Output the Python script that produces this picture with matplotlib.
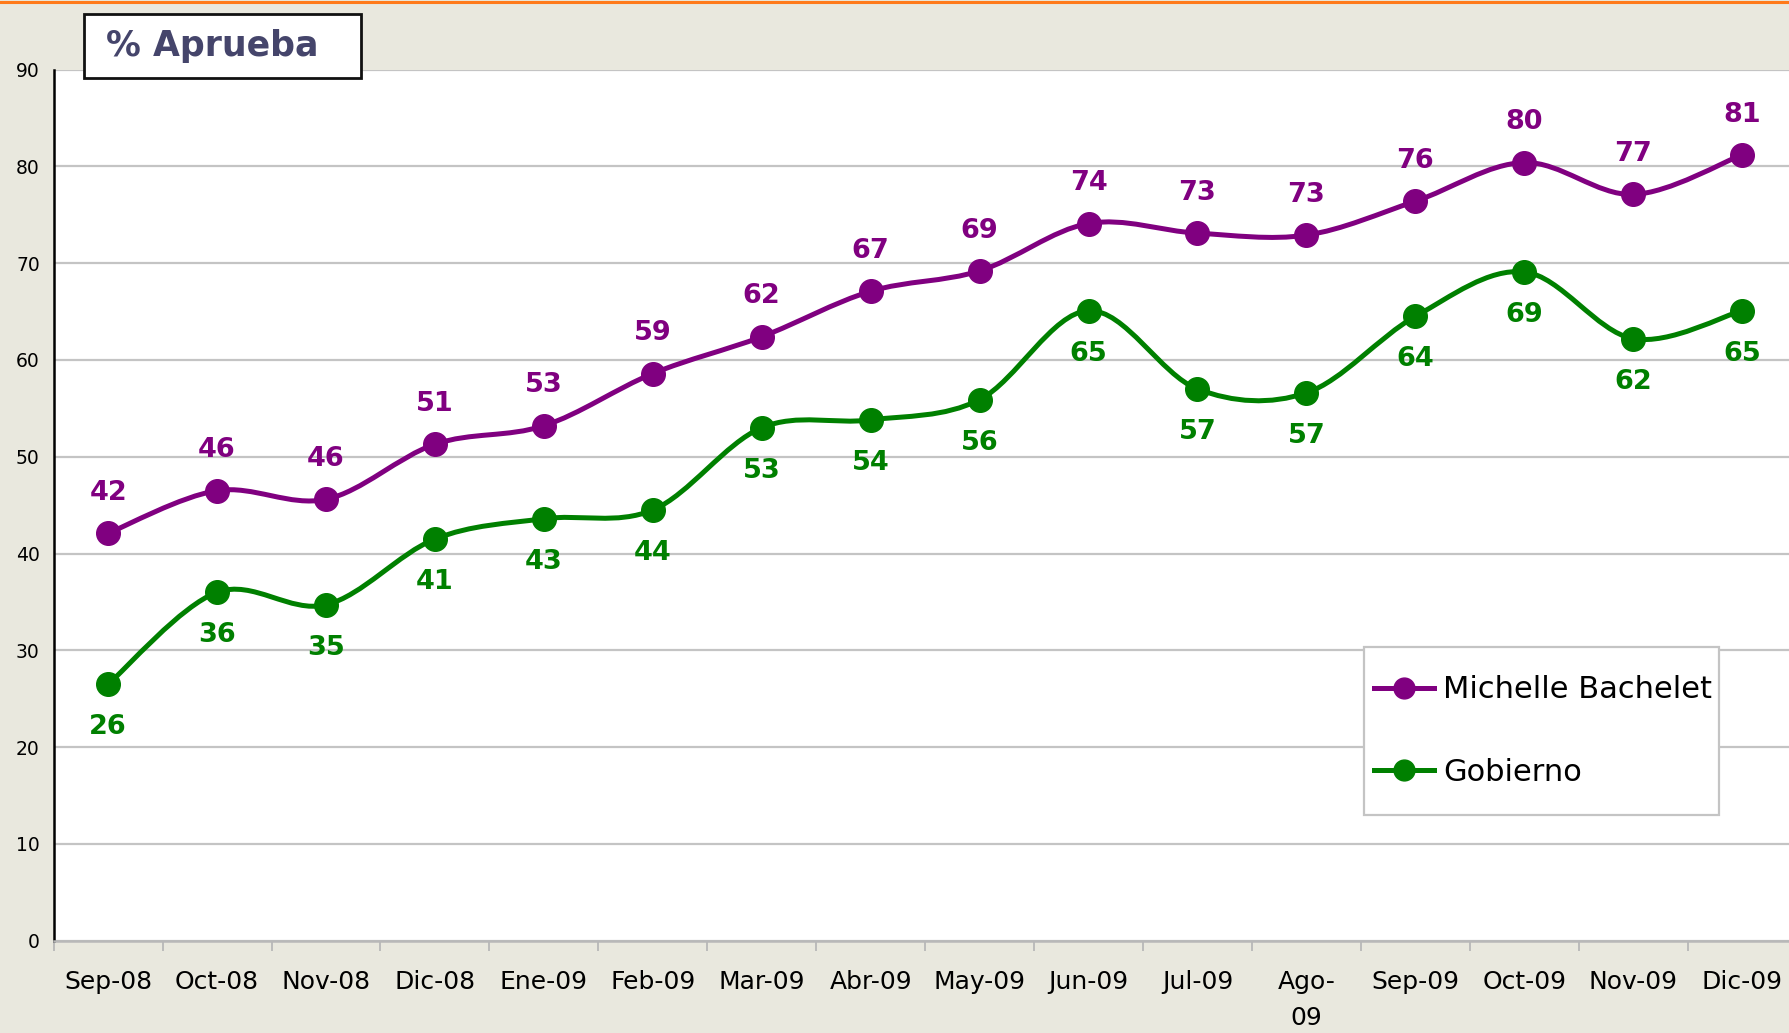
import numpy as np
import matplotlib.pyplot as plt
from matplotlib.path import Path
from matplotlib.patches import PathPatch, Rectangle
from matplotlib.lines import Line2D

# ---------------- data ----------------
meses = ['Sep-08', 'Oct-08', 'Nov-08', 'Dic-08', 'Ene-09', 'Feb-09', 'Mar-09', 'Abr-09',
         'May-09', 'Jun-09', 'Jul-09', 'Ago-\n09', 'Sep-09', 'Oct-09', 'Nov-09', 'Dic-09']

bachelet = [42.1, 46.5, 45.6, 51.3, 53.2, 58.6, 62.4, 67.1,
            69.2, 74.1, 73.1, 72.9, 76.4, 80.4, 77.1, 81.2]
bachelet_lbl = [42, 46, 46, 51, 53, 59, 62, 67, 69, 74, 73, 73, 76, 80, 77, 81]

gobierno = [26.5, 36.0, 34.7, 41.5, 43.6, 44.5, 53.0, 53.8,
            55.9, 65.1, 57.0, 56.6, 64.5, 69.1, 62.2, 65.1]
gobierno_lbl = [26, 36, 35, 41, 43, 44, 53, 54, 56, 65, 57, 57, 64, 69, 62, 65]

yticks = [0, 10, 20, 30, 40, 50, 60, 70, 80, 90]

PURPLE = '#800080'
GREEN = '#008000'
BG = '#E9E8DE'

plt.rcParams['font.family'] = ['DejaVu Sans']


def smooth_path(xs, ys):
    # catmull-rom style bezier through the points (like excel smoothed lines)
    pts = np.column_stack([xs, ys]).astype(float)
    verts = [pts[0]]
    codes = [Path.MOVETO]
    n = len(pts)
    for i in range(n - 1):
        p0 = pts[i - 1] if i > 0 else pts[i]
        p1 = pts[i]
        p2 = pts[i + 1]
        p3 = pts[i + 2] if i + 2 < n else pts[i + 1]
        c1 = p1 + (p2 - p0) / 6.0
        c2 = p2 - (p3 - p1) / 6.0
        verts += [c1, c2, p2]
        codes += [Path.CURVE4] * 3
    return Path(verts, codes)


fig = plt.figure(figsize=(17.9, 10.33), dpi=100, facecolor=BG)
ax = fig.add_axes([0.030, 0.0894, 0.970, 0.8432])
ax.set_facecolor('white')

x = np.arange(len(meses))

for vals, lbls, col, off in [(bachelet, bachelet_lbl, PURPLE, 29),
                             (gobierno, gobierno_lbl, GREEN, -31)]:
    ax.add_patch(PathPatch(smooth_path(x, vals), facecolor='none', edgecolor=col,
                           lw=3.6, zorder=3, capstyle='round', joinstyle='round'))
    ax.plot(x, vals, 'o', color=col, ms=17, zorder=4)
    for xi, v, l in zip(x, vals, lbls):
        ax.annotate(str(l), (xi, v), xytext=(0, off), textcoords='offset points',
                    ha='center', va='center', fontsize=19.5, fontweight='bold', color=col)

ax.set_xlim(-0.5, 15.44)
ax.set_ylim(0, 90)
ax.set_yticks(yticks)
ax.grid(axis='y', color='#C4C4C4', lw=1.6, zorder=0)
ax.set_axisbelow(True)

ax.set_xticks(x)
ax.set_xticklabels(meses, fontsize=18, linespacing=1.65)
ax.set_xticks(np.arange(-0.5, 15.5, 1.0), minor=True)
ax.tick_params(axis='x', which='major', length=0, pad=21)
ax.tick_params(axis='x', which='minor', length=7, width=1.3, color='#B8B8B8')
ax.tick_params(axis='y', length=0, pad=10, labelsize=13.5)

for s in ['top', 'right']:
    ax.spines[s].set_visible(False)
ax.spines['left'].set_color('black')
ax.spines['left'].set_linewidth(1.8)
ax.spines['bottom'].set_color('#B8B8B8')
ax.spines['bottom'].set_linewidth(1.8)

# legend: frame drawn separately so its padding can be set freely
leg_box = (1364 / 1790, 1 - 815 / 1033, (1719 - 1364) / 1790, (815 - 647) / 1033)
fig.patches.append(Rectangle(leg_box[:2], leg_box[2], leg_box[3], transform=fig.transFigure,
                             facecolor='white', edgecolor='#C4C4C4', lw=1.6, zorder=4))
handles = [Line2D([], [], color=PURPLE, lw=3.6, marker='o', ms=15),
           Line2D([], [], color=GREEN, lw=3.6, marker='o', ms=15)]
leg = fig.legend(handles, ['Michelle Bachelet', 'Gobierno'], loc='center left',
                 bbox_to_anchor=(leg_box[0] + 4 / 1790, leg_box[1] + leg_box[3] / 2),
                 fontsize=22, frameon=False, labelspacing=1.75, handlelength=1.96,
                 handletextpad=0.3, borderpad=0.2, borderaxespad=0)
leg.set_zorder(6)

# title box
fig.patches.append(Rectangle((84.5 / 1790, 1 - 77.6 / 1033), (360.7 - 84.5) / 1790,
                             (77.6 - 13.7) / 1033, transform=fig.transFigure,
                             facecolor='white', edgecolor='#111111', lw=2.0, zorder=5))
fig.text(106 / 1790, 1 - 46 / 1033, '% Aprueba', fontsize=25, fontweight='bold',
         color='#45456B', va='center', ha='left', zorder=6)

# orange line at top
fig.add_artist(Line2D([0, 1], [0.9985, 0.9985], transform=fig.transFigure,
                      color='#FF7A1A', lw=2.2))

fig.savefig('out.png', dpi=100, facecolor=BG)
